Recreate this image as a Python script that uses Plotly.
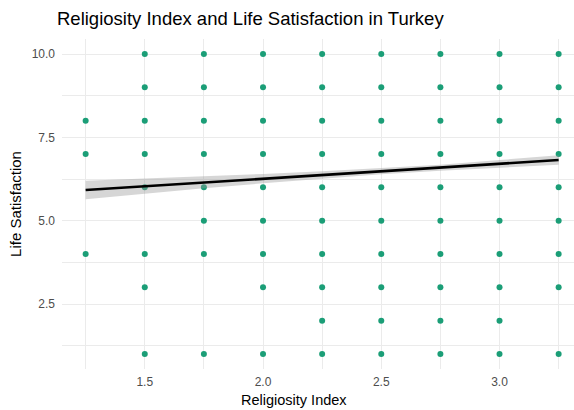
import plotly.graph_objects as go

# Observed (religiosity index, life satisfaction) combinations
religiosity = (
    [1.25] * 3 + [1.5] * 8 + [1.75] * 8 + [2.0] * 9 + [2.25] * 10
    + [2.5] * 10 + [2.75] * 10 + [3.0] * 10 + [3.25] * 9
)
satisfaction = (
    [8, 7, 4]
    + [10, 9, 8, 7, 6, 4, 3, 1]
    + [10, 9, 8, 7, 6, 5, 4, 1]
    + [10, 9, 8, 7, 6, 5, 4, 3, 1]
    + [10, 9, 8, 7, 6, 5, 4, 3, 2, 1]
    + [10, 9, 8, 7, 6, 5, 4, 3, 2, 1]
    + [10, 9, 8, 7, 6, 5, 4, 3, 2, 1]
    + [10, 9, 8, 7, 6, 5, 4, 3, 2, 1]
    + [10, 9, 8, 7, 6, 5, 4, 3, 1]
)

# Linear fit with 95% confidence band
fit_x = [1.25, 1.5, 1.75, 2.0, 2.25, 2.5, 2.75, 3.0, 3.25]
fit_y = [5.92, 6.03, 6.15, 6.26, 6.37, 6.48, 6.59, 6.71, 6.82]
fit_lo = [5.64, 5.80, 5.97, 6.12, 6.26, 6.39, 6.50, 6.60, 6.68]
fit_hi = [6.20, 6.26, 6.33, 6.40, 6.48, 6.57, 6.68, 6.82, 6.96]

W, H = 574, 410
L, T, B = 62, 39, 41

fig = go.Figure()
fig.add_trace(go.Scatter(
    x=religiosity, y=satisfaction, mode="markers",
    marker=dict(color="#1b9e77", size=6, symbol="circle"),
    showlegend=False,
))
fig.add_trace(go.Scatter(
    x=fit_x + fit_x[::-1], y=fit_hi + fit_lo[::-1],
    fill="toself", fillcolor="rgba(153,153,153,0.4)",
    line=dict(width=0), mode="lines", hoverinfo="skip", showlegend=False,
))
fig.add_trace(go.Scatter(
    x=fit_x, y=fit_y, mode="lines",
    line=dict(color="black", width=2.6), showlegend=False,
))

grid = "#EBEBEB"
tickfont = dict(family="Liberation Sans, Arial, sans-serif", size=12, color="#4D4D4D")

fig.update_layout(
    width=W, height=H,
    margin=dict(l=L, r=0, t=T, b=B),
    paper_bgcolor="white", plot_bgcolor="white",
    font=dict(family="Liberation Sans, Arial, sans-serif"),
    title=dict(
        text="Religiosity Index and Life Satisfaction in Turkey",
        font=dict(size=18.5, color="black"),
        xref="container", yref="container",
        x=57 / W, xanchor="left", y=1 - 19 / H, yanchor="middle",
    ),
    xaxis=dict(
        range=[1.15, 1.15 + (W - L) / 236.5],
        tickvals=[1.5, 2.0, 2.5, 3.0], ticktext=["1.5", "2.0", "2.5", "3.0"],
        showgrid=True, gridcolor=grid, gridwidth=1.1,
        minor=dict(tickvals=[1.25, 1.75, 2.25, 2.75, 3.25], showgrid=True,
                   gridcolor=grid, gridwidth=0.6),
        zeroline=False, showline=False, ticks="",
        tickfont=tickfont, ticklabelstandoff=4,
    ),
    yaxis=dict(
        range=[0.55, 10.45],
        tickvals=[2.5, 5.0, 7.5, 10.0], ticktext=["2.5", "5.0", "7.5", "10.0"],
        showgrid=True, gridcolor=grid, gridwidth=1.1,
        minor=dict(tickvals=[1.25, 3.75, 6.25, 8.75], showgrid=True,
                   gridcolor=grid, gridwidth=0.6),
        zeroline=False, showline=False, ticks="",
        tickfont=tickfont, ticklabelstandoff=6,
        title=dict(text="Life Satisfaction",
                   font=dict(size=15, color="black"), standoff=6),
    ),
    annotations=[dict(
        text="Religiosity Index", xref="paper", yref="paper",
        x=(294 - L) / (W - L), y=-(400 - (H - B)) / (H - T - B),
        xanchor="center", yanchor="middle", showarrow=False,
        font=dict(size=14.5, color="black"),
    )],
)

fig.write_html("out.html")
